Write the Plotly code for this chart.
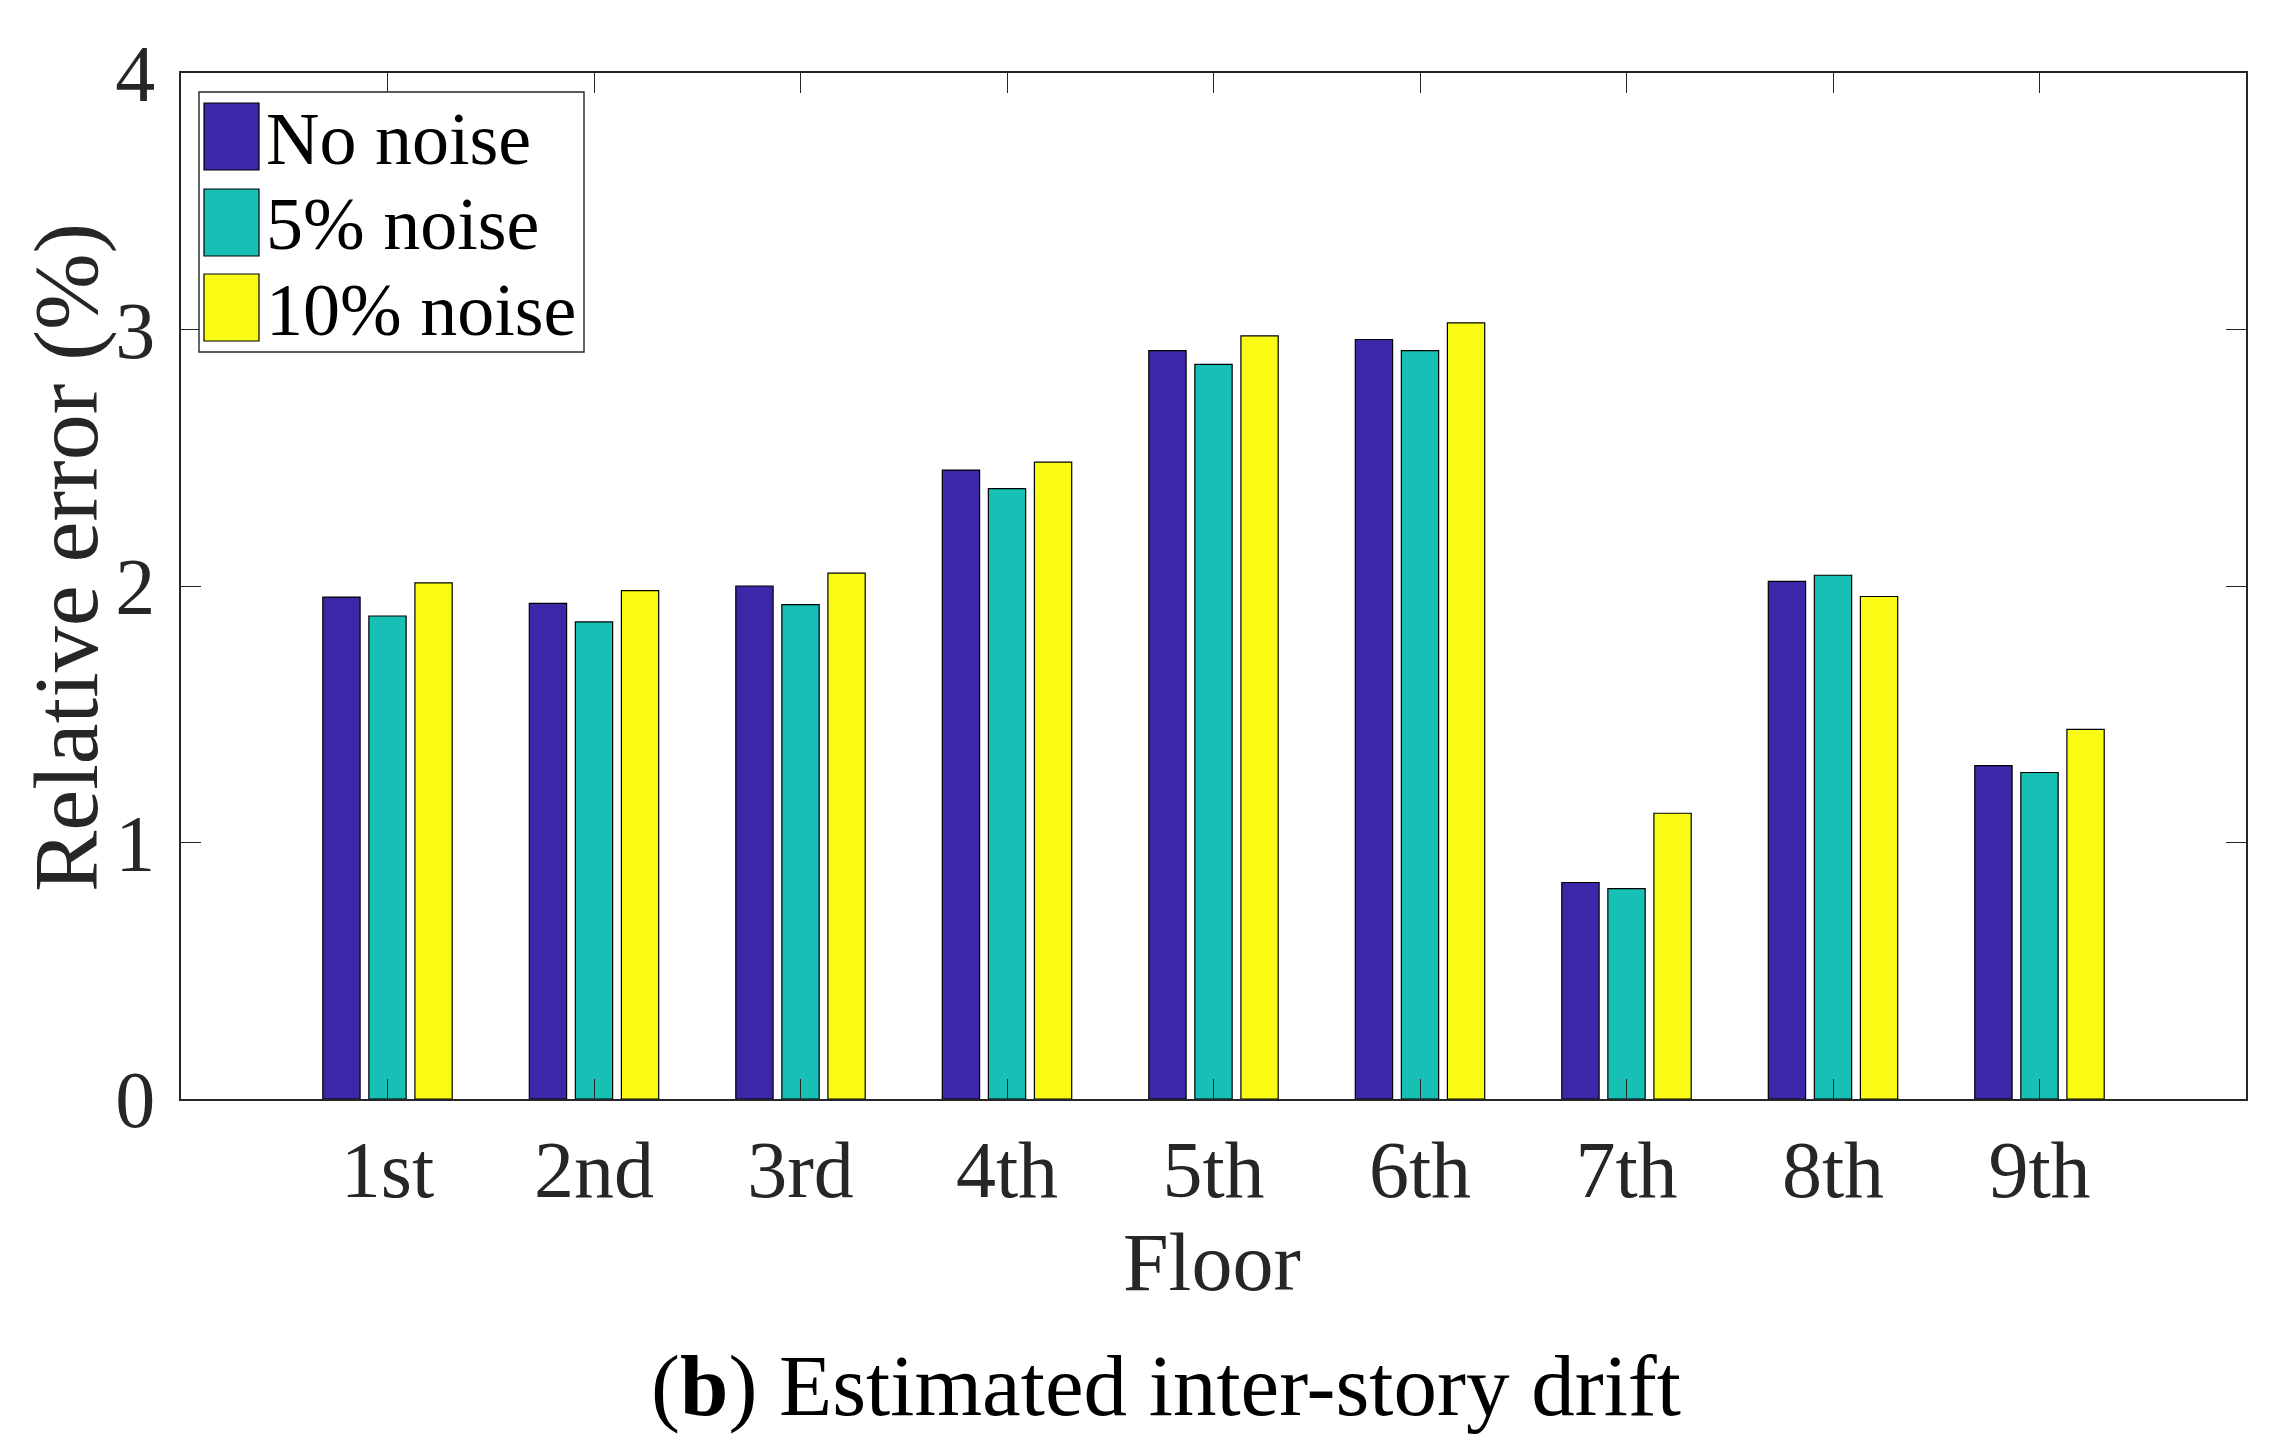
import plotly.graph_objects as go

floors = ["1st", "2nd", "3rd", "4th", "5th", "6th", "7th", "8th", "9th"]
floor_pos = [1, 2, 3, 4, 5, 6, 7, 8, 9]
series_names = ["No noise", "5% noise", "10% noise"]
no_noise = [1.957, 1.932, 2.000, 2.452, 2.918, 2.961, 0.844, 2.018, 1.300]
noise_5 = [1.883, 1.860, 1.927, 2.380, 2.864, 2.918, 0.820, 2.042, 1.273]
noise_10 = [2.012, 1.982, 2.050, 2.483, 2.975, 3.026, 1.114, 1.959, 1.441]
series_values = [no_noise, noise_5, noise_10]
colors = ["#3E26A8", "#17BFB5", "#F9FB15"]
y_ticks = [0, 1, 2, 3, 4]

W, H = 2296, 1444
OFF = 8  # page body offset
L, R, T, B = 181, 2246, 73, 1099
FONT = "Liberation Serif, Times New Roman, serif"


def px_x(x):
    return (x - L) / (R - L)


def px_y(y):
    return (B - y) / (B - T)


fig = go.Figure()
for name, vals, col in zip(series_names, series_values, colors):
    fig.add_trace(go.Bar(
        x=floor_pos, y=vals, name=name,
        marker=dict(color=col, line=dict(color="#000000", width=1.2)),
        showlegend=False,
    ))

axis_common = dict(
    showline=True, linecolor="#262626", linewidth=1.6, mirror="ticks",
    ticks="inside", ticklen=20, tickwidth=1.4, tickcolor="#262626",
    showgrid=False, zeroline=False,
    tickfont=dict(family=FONT, size=80, color="#262626"),
)

fig.update_layout(
    width=W, height=H,
    margin=dict(l=L - OFF, r=W - R + OFF, t=T - OFF, b=H - B + OFF),
    paper_bgcolor="white", plot_bgcolor="white",
    barmode="group", bargap=0.331, bargroupgap=0.19,
    xaxis=dict(range=[0, 10], tickvals=floor_pos, ticktext=floors, **axis_common),
    yaxis=dict(range=[0, 4], tickvals=y_ticks, ticktext=[str(v) for v in y_ticks],
               ticklabelstandoff=8, **axis_common),
    showlegend=False,
)

# axis titles and caption
fig.add_annotation(text="Floor", xref="paper", yref="paper",
                   x=px_x(1212), y=px_y(1262), showarrow=False,
                   xanchor="center", yanchor="middle",
                   font=dict(family=FONT, size=82, color="#262626"))
fig.add_annotation(text="Relative error (%)", xref="paper", yref="paper",
                   x=px_x(66), y=px_y(558), showarrow=False, textangle=-90,
                   xanchor="center", yanchor="middle",
                   font=dict(family=FONT, size=92, color="#262626"))
fig.add_annotation(text="(<b>b</b>) Estimated inter-story drift", xref="paper", yref="paper",
                   x=px_x(1166), y=px_y(1385), showarrow=False,
                   xanchor="center", yanchor="middle",
                   font=dict(family=FONT, size=87, color="#000000"))

# legend box drawn manually
fig.add_shape(type="rect", xref="paper", yref="paper",
              x0=px_x(199), x1=px_x(584), y0=px_y(92), y1=px_y(352),
              line=dict(color="#262626", width=1.4), fillcolor="white", layer="above")
rows = [(103, 170), (189, 256), (274, 341)]
for (y0, y1), name, col in zip(rows, series_names, colors):
    fig.add_shape(type="rect", xref="paper", yref="paper",
                  x0=px_x(204), x1=px_x(259), y0=px_y(y0), y1=px_y(y1),
                  line=dict(color="#000000", width=1.2), fillcolor=col, layer="above")
    fig.add_annotation(text=name, xref="paper", yref="paper",
                       x=px_x(264), y=px_y((y0 + y1) / 2 + 2), showarrow=False,
                       xanchor="left", yanchor="middle",
                       font=dict(family=FONT, size=74, color="#000000"))

fig.write_html("out.html")
